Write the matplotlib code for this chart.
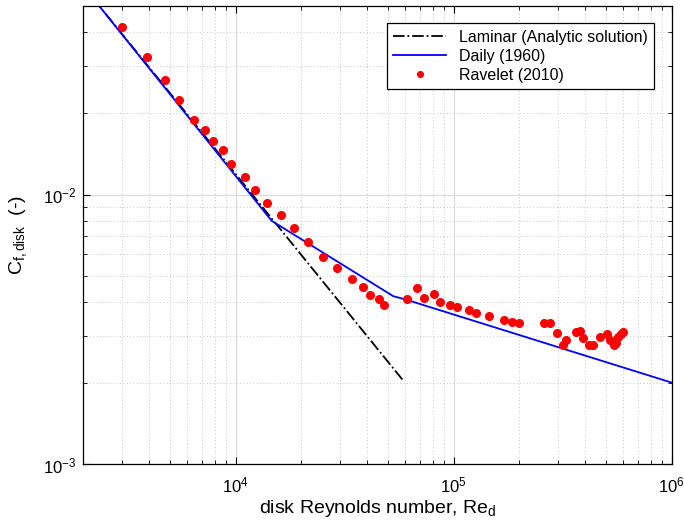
import numpy as np
import matplotlib
matplotlib.use("Agg")
import matplotlib.pyplot as plt
from matplotlib.ticker import LogLocator, NullFormatter

plt.rcParams["font.family"] = ["Liberation Sans", "DejaVu Sans"]
plt.rcParams["mathtext.fontset"] = "custom"
plt.rcParams["mathtext.rm"] = "Liberation Sans"
plt.rcParams["mathtext.it"] = "Liberation Sans:italic"

# ---------- data ----------
# laminar analytic solution (end points of the straight line)
re_lam = [2000, 58500]
cf_lam = [0.059, 0.00205]

# Daily (1960) regimes
re_daily = [2000, 14610, 52820, 59760, 1e6]
cf_daily = [0.059, 0.00799, 0.00420, 0.00409, 0.00201]

# Ravelet (2010) measurements
re_rav = [3014, 3913, 4718, 5504, 6450, 7221, 7860, 8706, 9476, 11054,
          12250, 13950, 16070, 18555, 21450, 25050, 29230, 34230, 38470, 41420,
          45270, 47720, 60850, 68070, 73280, 80790, 86800, 95860, 103200, 116900,
          126200, 145200, 170200, 185200, 199400, 259700, 276600, 296900, 327600, 318400,
          364000, 379800, 390800, 419200, 434500, 469300, 503800, 521700, 544100, 555700,
          569300, 583900, 600200]
cf_rav = [0.04160, 0.03229, 0.02654, 0.02232, 0.01881, 0.01732, 0.01577, 0.01457, 0.01296, 0.01157,
          0.01043, 0.00929, 0.00837, 0.00754, 0.00665, 0.00585, 0.00534, 0.00486, 0.00454, 0.00424,
          0.00410, 0.00390, 0.00409, 0.00449, 0.00414, 0.00428, 0.00399, 0.00390, 0.00382, 0.00373,
          0.00364, 0.00356, 0.00344, 0.00337, 0.00333, 0.00333, 0.00333, 0.00307, 0.00289, 0.00277,
          0.00310, 0.00313, 0.00293, 0.00277, 0.00277, 0.00297, 0.00303, 0.00289, 0.00278, 0.00282,
          0.00296, 0.00303, 0.00310]

# ---------- plot ----------
fig = plt.figure(figsize=(6.84, 5.29), dpi=100)
ax = fig.add_axes([0.122, 0.122, 0.860, 0.867])

ax.plot(re_lam, cf_lam, "k-.", lw=1.3, label="Laminar (Analytic solution)")
ax.plot(re_daily, cf_daily, "b-", lw=1.3, label="Daily (1960)")
ax.plot(re_rav, cf_rav, "o", color="red", mec="red", ms=5.5, ls="none",
        label="Ravelet (2010)")

ax.set_xscale("log")
ax.set_yscale("log")
ax.set_xlim(2000, 1e6)
ax.set_ylim(1e-3, 0.05)

ax.xaxis.set_minor_locator(LogLocator(base=10, subs=np.arange(2, 10)))
ax.yaxis.set_minor_locator(LogLocator(base=10, subs=np.arange(2, 10)))
ax.xaxis.set_minor_formatter(NullFormatter())
ax.yaxis.set_minor_formatter(NullFormatter())

ax.grid(which="major", color="#d9d9d9", lw=0.8, ls="-")
ax.grid(which="minor", color="#b0b0b0", lw=0.6, ls=(0, (1, 3)))
ax.set_axisbelow(True)

ax.tick_params(which="both", direction="in", top=True, right=True, labelsize=12)
ax.tick_params(which="major", length=5)
ax.tick_params(which="minor", length=3)
ax.tick_params(axis="x", which="major", pad=8)
ax.tick_params(axis="y", which="major", pad=5)
for s in ax.spines.values():
    s.set_linewidth(0.9)

ax.set_xlabel(r"disk Reynolds number, Re$_{\rm d}$", fontsize=14, labelpad=2)
ax.set_ylabel(r"C$_{\rm f,disk}$  (-)", fontsize=14, labelpad=10)

leg = ax.legend(loc="upper right", fontsize=11.5, fancybox=False, framealpha=1,
                edgecolor="black", handlelength=3.3, borderaxespad=1.1,
                labelspacing=0.25, markerscale=0.75)
leg.get_frame().set_linewidth(0.9)

fig.savefig("out.png", dpi=100)
